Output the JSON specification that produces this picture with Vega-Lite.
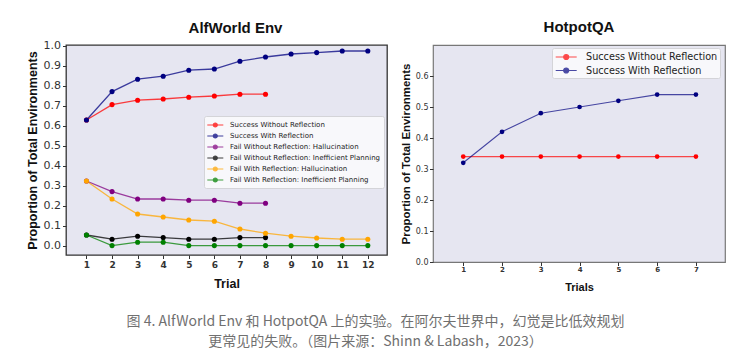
{
  "$schema": "https://vega.github.io/schema/vega-lite/v6.json",
  "padding": {"left": 25, "top": 19, "right": 5, "bottom": 5},
  "background": "white",
  "config": {
    "font": "DejaVu Sans",
    "view": {"fill": "#e6e6f1", "stroke": "#333333", "strokeWidth": 1.3},
    "axis": {"grid": false, "domain": false, "tickColor": "#333333", "tickSize": 3.5, "labelColor": "#333333", "titleColor": "#111111", "titleFont": "Liberation Sans", "titleFontWeight": "bold", "labelFlush": false, "labelOverlap": false},
    "title": {"font": "Liberation Sans", "fontSize": 15, "fontWeight": "bold", "color": "#111111"}
  },
  "title": {
    "text": ["图 4. AlfWorld Env 和 HotpotQA 上的实验。在阿尔夫世界中，幻觉是比低效规划", "更常见的失败。（图片来源：Shinn & Labash，2023）"],
    "orient": "bottom",
    "anchor": "middle",
    "offset": 22,
    "font": "Noto Sans CJK SC",
    "fontSize": 14,
    "fontWeight": "normal",
    "color": "#707070",
    "lineHeight": 20
  },
  "datasets": {
    "alf": [
      {"trial": 1, "value": 0.628, "series": "Success Without Reflection"},
      {"trial": 2, "value": 0.705, "series": "Success Without Reflection"},
      {"trial": 3, "value": 0.727, "series": "Success Without Reflection"},
      {"trial": 4, "value": 0.733, "series": "Success Without Reflection"},
      {"trial": 5, "value": 0.742, "series": "Success Without Reflection"},
      {"trial": 6, "value": 0.748, "series": "Success Without Reflection"},
      {"trial": 7, "value": 0.757, "series": "Success Without Reflection"},
      {"trial": 8, "value": 0.757, "series": "Success Without Reflection"},
      {"trial": 1, "value": 0.628, "series": "Success With Reflection"},
      {"trial": 2, "value": 0.770, "series": "Success With Reflection"},
      {"trial": 3, "value": 0.832, "series": "Success With Reflection"},
      {"trial": 4, "value": 0.847, "series": "Success With Reflection"},
      {"trial": 5, "value": 0.877, "series": "Success With Reflection"},
      {"trial": 6, "value": 0.883, "series": "Success With Reflection"},
      {"trial": 7, "value": 0.922, "series": "Success With Reflection"},
      {"trial": 8, "value": 0.943, "series": "Success With Reflection"},
      {"trial": 9, "value": 0.958, "series": "Success With Reflection"},
      {"trial": 10, "value": 0.965, "series": "Success With Reflection"},
      {"trial": 11, "value": 0.973, "series": "Success With Reflection"},
      {"trial": 12, "value": 0.973, "series": "Success With Reflection"},
      {"trial": 1, "value": 0.323, "series": "Fail Without Reflection: Hallucination"},
      {"trial": 2, "value": 0.270, "series": "Fail Without Reflection: Hallucination"},
      {"trial": 3, "value": 0.233, "series": "Fail Without Reflection: Hallucination"},
      {"trial": 4, "value": 0.233, "series": "Fail Without Reflection: Hallucination"},
      {"trial": 5, "value": 0.227, "series": "Fail Without Reflection: Hallucination"},
      {"trial": 6, "value": 0.227, "series": "Fail Without Reflection: Hallucination"},
      {"trial": 7, "value": 0.212, "series": "Fail Without Reflection: Hallucination"},
      {"trial": 8, "value": 0.212, "series": "Fail Without Reflection: Hallucination"},
      {"trial": 1, "value": 0.053, "series": "Fail Without Reflection: Inefficient Planning"},
      {"trial": 2, "value": 0.032, "series": "Fail Without Reflection: Inefficient Planning"},
      {"trial": 3, "value": 0.047, "series": "Fail Without Reflection: Inefficient Planning"},
      {"trial": 4, "value": 0.040, "series": "Fail Without Reflection: Inefficient Planning"},
      {"trial": 5, "value": 0.032, "series": "Fail Without Reflection: Inefficient Planning"},
      {"trial": 6, "value": 0.032, "series": "Fail Without Reflection: Inefficient Planning"},
      {"trial": 7, "value": 0.040, "series": "Fail Without Reflection: Inefficient Planning"},
      {"trial": 8, "value": 0.040, "series": "Fail Without Reflection: Inefficient Planning"},
      {"trial": 1, "value": 0.323, "series": "Fail With Reflection: Hallucination"},
      {"trial": 2, "value": 0.233, "series": "Fail With Reflection: Hallucination"},
      {"trial": 3, "value": 0.158, "series": "Fail With Reflection: Hallucination"},
      {"trial": 4, "value": 0.143, "series": "Fail With Reflection: Hallucination"},
      {"trial": 5, "value": 0.128, "series": "Fail With Reflection: Hallucination"},
      {"trial": 6, "value": 0.122, "series": "Fail With Reflection: Hallucination"},
      {"trial": 7, "value": 0.083, "series": "Fail With Reflection: Hallucination"},
      {"trial": 8, "value": 0.062, "series": "Fail With Reflection: Hallucination"},
      {"trial": 9, "value": 0.047, "series": "Fail With Reflection: Hallucination"},
      {"trial": 10, "value": 0.038, "series": "Fail With Reflection: Hallucination"},
      {"trial": 11, "value": 0.032, "series": "Fail With Reflection: Hallucination"},
      {"trial": 12, "value": 0.032, "series": "Fail With Reflection: Hallucination"},
      {"trial": 1, "value": 0.053, "series": "Fail With Reflection: Inefficient Planning"},
      {"trial": 2, "value": 0.0, "series": "Fail With Reflection: Inefficient Planning"},
      {"trial": 3, "value": 0.017, "series": "Fail With Reflection: Inefficient Planning"},
      {"trial": 4, "value": 0.017, "series": "Fail With Reflection: Inefficient Planning"},
      {"trial": 5, "value": 0.0, "series": "Fail With Reflection: Inefficient Planning"},
      {"trial": 6, "value": 0.0, "series": "Fail With Reflection: Inefficient Planning"},
      {"trial": 7, "value": 0.0, "series": "Fail With Reflection: Inefficient Planning"},
      {"trial": 8, "value": 0.0, "series": "Fail With Reflection: Inefficient Planning"},
      {"trial": 9, "value": 0.0, "series": "Fail With Reflection: Inefficient Planning"},
      {"trial": 10, "value": 0.0, "series": "Fail With Reflection: Inefficient Planning"},
      {"trial": 11, "value": 0.0, "series": "Fail With Reflection: Inefficient Planning"},
      {"trial": 12, "value": 0.0, "series": "Fail With Reflection: Inefficient Planning"}
    ],
    "hotpot": [
      {"trial": 1, "value": 0.34, "series": "Success Without Reflection"},
      {"trial": 2, "value": 0.34, "series": "Success Without Reflection"},
      {"trial": 3, "value": 0.34, "series": "Success Without Reflection"},
      {"trial": 4, "value": 0.34, "series": "Success Without Reflection"},
      {"trial": 5, "value": 0.34, "series": "Success Without Reflection"},
      {"trial": 6, "value": 0.34, "series": "Success Without Reflection"},
      {"trial": 7, "value": 0.34, "series": "Success Without Reflection"},
      {"trial": 1, "value": 0.32, "series": "Success With Reflection"},
      {"trial": 2, "value": 0.42, "series": "Success With Reflection"},
      {"trial": 3, "value": 0.48, "series": "Success With Reflection"},
      {"trial": 4, "value": 0.50, "series": "Success With Reflection"},
      {"trial": 5, "value": 0.52, "series": "Success With Reflection"},
      {"trial": 6, "value": 0.54, "series": "Success With Reflection"},
      {"trial": 7, "value": 0.54, "series": "Success With Reflection"}
    ]
  },
  "spacing": 11,
  "resolve": {"scale": {"color": "shared"}, "legend": {"color": "independent"}},
  "hconcat": [
    {
      "width": 321,
      "height": 210,
      "title": {"text": "AlfWorld Env", "offset": 3.7, "dx": 9},
      "data": {"name": "alf"},
      "encoding": {
        "x": {"field": "trial", "type": "quantitative",
          "scale": {"domain": [0.2, 12.75], "nice": false, "zero": false},
          "axis": {"values": [1,2,3,4,5,6,7,8,9,10,11,12], "title": "Trial", "labelFontWeight": "bold", "labelFontSize": 9, "labelPadding": 2, "titlePadding": 8, "titleFontSize": 12.5}},
        "y": {"field": "value", "type": "quantitative",
          "scale": {"domain": [-0.047, 1.003], "nice": false, "zero": false},
          "axis": {"values": [0,0.1,0.2,0.3,0.4,0.5,0.6,0.7,0.8,0.9,1.0], "format": ".1f", "title": "Proportion of Total Environments", "labelFontSize": 11, "labelPadding": 2, "titlePadding": 4, "titleFontSize": 12.5}},
        "color": {"field": "series", "type": "nominal",
          "scale": {"domain": ["Success Without Reflection", "Success With Reflection", "Fail Without Reflection: Hallucination", "Fail Without Reflection: Inefficient Planning", "Fail With Reflection: Hallucination", "Fail With Reflection: Inefficient Planning"],
                    "range": ["#ff0000", "#000080", "#800080", "#000000", "#ffa500", "#008000"]},
          "legend": {"title": null, "orient": "none", "legendX": 138, "legendY": 71,
            "values": ["Success Without Reflection", "Success With Reflection", "Fail Without Reflection: Hallucination", "Fail Without Reflection: Inefficient Planning", "Fail With Reflection: Hallucination", "Fail With Reflection: Inefficient Planning"],
            "symbolType": "M-1.6,0L1.6,0M0.4,0A0.4,0.4,0,1,1,-0.4,0A0.4,0.4,0,1,1,0.4,0Z",
            "symbolSize": 100, "symbolStrokeWidth": 1.2,
            "labelFont": "DejaVu Sans", "labelFontSize": 7.0, "labelColor": "#222222", "labelLimit": 300,
            "fillColor": "#f8f8fb", "strokeColor": "#d4d4d8", "padding": 3, "cornerRadius": 2,
            "rowPadding": -1.7, "symbolOffset": 2.3, "labelOffset": 8.7,
            "encode": {"symbols": {"update": {"fill": {"scale": "color", "field": "value"}, "stroke": {"scale": "color", "field": "value"}, "opacity": {"value": 1}}}}}}
      },
      "layer": [
        {"mark": {"type": "line", "strokeWidth": 1.3, "opacity": 0.75}, "encoding": {}},
        {"mark": {"type": "point", "filled": true, "size": 26, "opacity": 1}, "encoding": {}}
      ]
    },
    {
      "width": 292,
      "height": 217,
      "title": {"text": "HotpotQA", "offset": 9.7},
      "view": {"stroke": "#777777", "strokeWidth": 1.2, "fill": "#e6e6f1"},
      "data": {"name": "hotpot"},
      "encoding": {
        "x": {"field": "trial", "type": "quantitative",
          "scale": {"domain": [0.22, 7.75], "nice": false, "zero": false},
          "axis": {"values": [1,2,3,4,5,6,7], "title": "Trials", "labelFontWeight": "bold", "labelFontSize": 7, "labelPadding": 0, "titlePadding": 9, "titleFontSize": 11}},
        "y": {"field": "value", "type": "quantitative",
          "scale": {"domain": [0, 0.7], "nice": false, "zero": false},
          "axis": {"values": [0,0.1,0.2,0.3,0.4,0.5,0.6], "format": ".1f", "title": "Proportion of Total Environments", "labelFontSize": 8, "labelPadding": 1.5, "titlePadding": 4, "titleFontSize": 11.4}},
        "color": {"field": "series", "type": "nominal",
          "legend": {"title": null, "orient": "none", "legendX": 119, "legendY": 3,
            "values": ["Success Without Reflection", "Success With Reflection"],
            "symbolType": "M-1.75,0L1.75,0M0.42,0A0.42,0.42,0,1,1,-0.42,0A0.42,0.42,0,1,1,0.42,0Z",
            "symbolSize": 144, "symbolStrokeWidth": 1.2,
            "labelFont": "DejaVu Sans", "labelFontSize": 9.7, "labelColor": "#222222", "labelLimit": 300,
            "fillColor": "#f8f8fb", "strokeColor": "#d4d4d8", "padding": 2, "cornerRadius": 2,
            "rowPadding": 1.5, "symbolOffset": 5.2, "labelOffset": 12.8,
            "encode": {"symbols": {"update": {"fill": {"scale": "color", "field": "value"}, "stroke": {"scale": "color", "field": "value"}, "opacity": {"value": 1}}}}}}
      },
      "layer": [
        {"mark": {"type": "line", "strokeWidth": 1.1, "opacity": 0.7}, "encoding": {}},
        {"mark": {"type": "point", "filled": true, "size": 22, "opacity": 1}, "encoding": {}}
      ]
    }
  ]
}
